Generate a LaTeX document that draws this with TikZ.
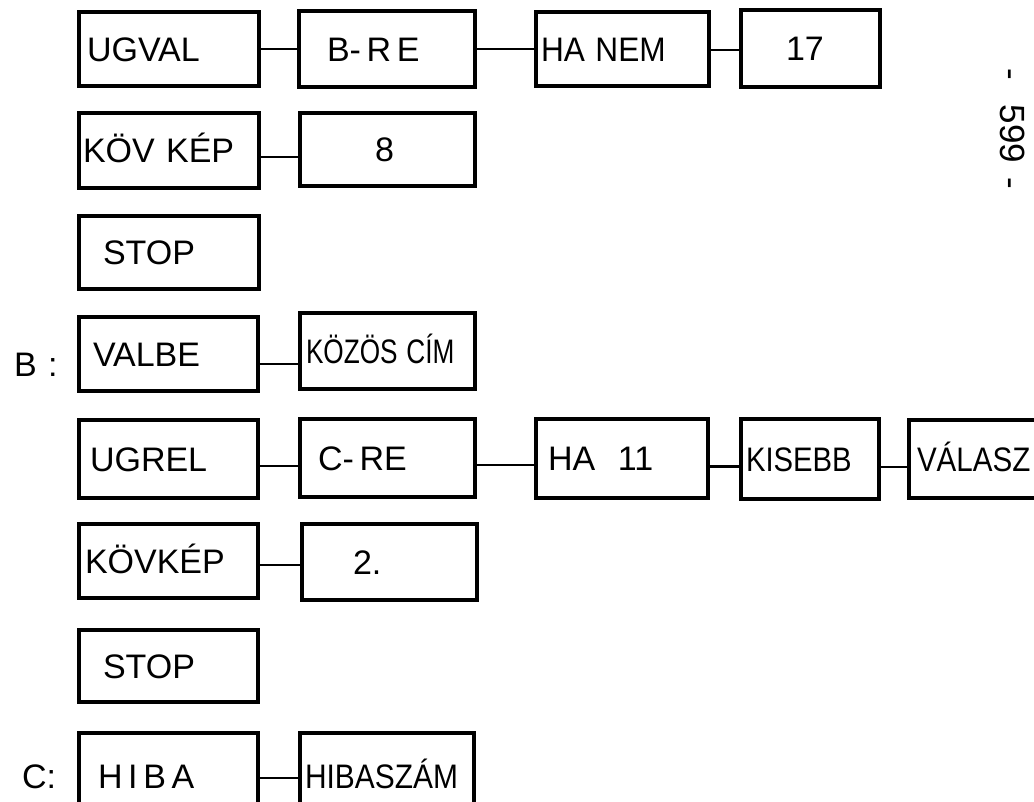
\documentclass[tikz,border=0pt]{standalone}
\usepackage{fontspec}
\setmainfont{Liberation Sans}
\newcommand\bigfont{\fontsize{34}{40}\selectfont}
\newcommand\pgfont{\fontsize{35}{40}\selectfont}
\tikzset{
  box/.style={draw, line width=3.1pt, inner sep=0pt, align=left,
    text height=24.3pt, text depth=0pt, font=\bigfont},
  conn/.style={line width=2.6pt},
  lbl/.style={inner sep=0pt, anchor=west, text height=24.3pt, text depth=0pt, font=\bigfont}
}
\newcommand\conn[3]{\draw[conn] ([yshift=#3]#1.east) -- ([yshift=#3]#1.east -| #2.west);}
\begin{document}
\begin{tikzpicture}[x=1pt,y=-1pt]
\useasboundingbox (0,0) rectangle (1034,802);
\clip (0,0) rectangle (1034,802);
% row 1
\node[box, minimum height=74pt, text width=180pt] (a1) at (169,49) {\hspace*{8pt}UGVAL};
\node[box, minimum height=76pt, text width=176pt] (a2) at (387,49) {\hspace*{28pt}B-\,R\,E};
\node[box, minimum height=74pt, text width=173pt] (a3) at (622.5,49) {\hspace*{5pt}\scalebox{0.93}[1]{HA NEM}};
\node[box, minimum height=77pt, text width=139pt] (a4) at (810.5,48.5) {\hspace*{45pt}17};
\conn{a1}{a2}{0pt}
\conn{a2}{a3}{0pt}
\conn{a3}{a4}{-1pt}
% row 2
\node[box, minimum height=75pt, text width=180pt] (b1) at (169,150.5) {\hspace*{4pt}KÖV KÉP};
\node[box, minimum height=73pt, text width=175pt] (b2) at (387.5,149.5) {\hspace*{75pt}8};
\conn{b1}{b2}{-6.5pt}
% row 3
\node[box, minimum height=73pt, text width=180pt] (c1) at (169,252.5) {\hspace*{24pt}STOP};
% row 4
\node[lbl] (lb) at (14,364) {B\,\,:};
\node[box, minimum height=74pt, text width=179pt] (d1) at (168.5,354) {\hspace*{14pt}VALBE};
\node[box, minimum height=76pt, text width=175pt] (d2) at (387.5,351) {\hspace*{6pt}\scalebox{0.77}[1]{KÖZÖS CÍM}};
\conn{d1}{d2}{-10pt}
% row 5
\node[box, minimum height=78pt, text width=179pt] (e1) at (168.5,459) {\hspace*{11pt}UGREL};
\node[box, minimum height=78pt, text width=175pt] (e2) at (387.5,458) {\hspace*{18pt}C-\,RE};
\node[box, minimum height=79pt, text width=172pt] (e3) at (622,458.5) {\hspace*{12pt}HA\ \ 11};
\node[box, minimum height=80pt, text width=138pt] (e4) at (810,459) {\hspace*{5pt}\scalebox{0.86}[1]{KISEBB}};
\node[box, minimum height=78pt, text width=160pt] (e5) at (989,459) {\hspace*{8pt}\scalebox{0.87}[1]{VÁLASZ}};
\conn{e1}{e2}{-7pt}
\conn{e2}{e3}{-7pt}
\conn{e3}{e4}{-8pt}
\conn{e4}{e5}{-8pt}
% row 6
\node[box, minimum height=74pt, text width=179pt] (f1) at (168.5,561) {\hspace*{6pt}KÖVKÉP};
\node[box, minimum height=76pt, text width=175pt] (f2) at (389.5,562) {\hspace*{51pt}2.};
\conn{f1}{f2}{-4pt}
% row 7
\node[box, minimum height=72pt, text width=179pt] (g1) at (168.5,666) {\hspace*{24pt}STOP};
% row 8
\node[lbl] (lc) at (22,776) {C:};
\node[box, minimum height=86pt, text width=179pt] (h1) at (168.5,776) {\hspace*{19pt}H\,I\,B\,A};
\node[box, minimum height=86pt, text width=174pt] (h2) at (387,776) {\hspace*{5pt}\scalebox{0.88}[1]{HIBASZÁM}};
\conn{h1}{h2}{-2pt}
% page number
\node[inner sep=0pt, anchor=west, rotate=-90, font=\pgfont, text height=25pt, text depth=0pt] (pn) at (1013,68) {-\hspace{25pt}599\hspace{14pt}-};
\end{tikzpicture}
\end{document}
